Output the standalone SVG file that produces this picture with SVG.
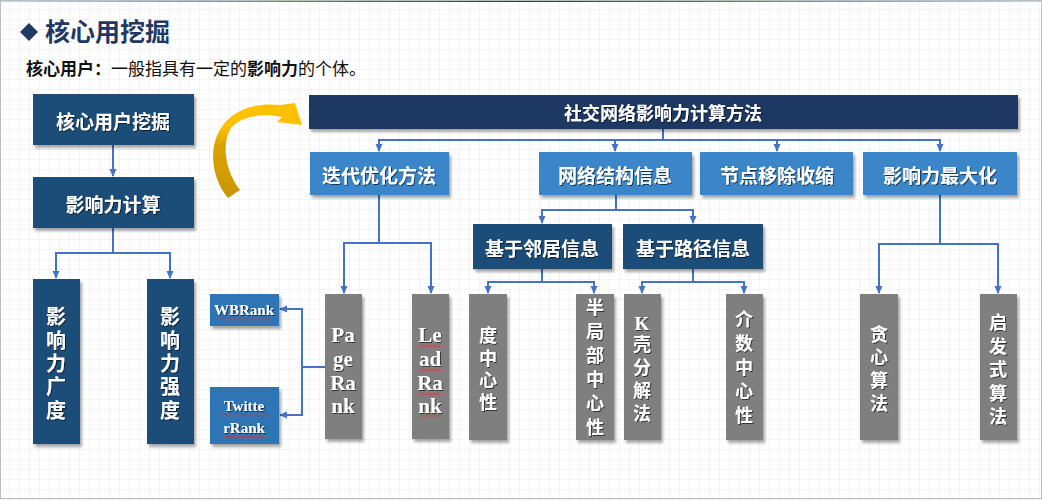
<svg xmlns="http://www.w3.org/2000/svg" width="1042" height="500" viewBox="0 0 1042 500">
<defs>
<pattern id="grid" width="10" height="10" patternUnits="userSpaceOnUse">
<path d="M10,0 V10 M0,10 H10" fill="none" stroke="#e9e9e9" stroke-width="1"/>
</pattern>
<pattern id="wavy" width="4" height="3" patternUnits="userSpaceOnUse">
<path d="M0,2.5 L2,0.5 L4,2.5" fill="none" stroke="#e0302a" stroke-width="1"/>
</pattern>
<linearGradient id="topline" x1="0" y1="0" x2="1" y2="0">
<stop offset="0" stop-color="#c9d3e3"/><stop offset="0.5" stop-color="#1f3864"/><stop offset="1" stop-color="#c9d3e3"/>
</linearGradient>
<linearGradient id="gold" x1="0" y1="0" x2="0" y2="1">
<stop offset="0" stop-color="#ffc000"/><stop offset="0.25" stop-color="#ffc000"/><stop offset="0.45" stop-color="#d9a400"/><stop offset="1" stop-color="#c99500"/>
</linearGradient>
<filter id="sh" x="-20%" y="-20%" width="150%" height="150%">
<feDropShadow dx="2" dy="3" stdDeviation="1.6" flood-color="#000" flood-opacity="0.35"/>
</filter>
<filter id="tsh" x="-10%" y="-10%" width="130%" height="130%">
<feDropShadow dx="1" dy="1" stdDeviation="0.4" flood-color="#000" flood-opacity="0.6"/>
</filter>
<marker id="arr" markerWidth="8" markerHeight="8" refX="7" refY="4" orient="auto" markerUnits="userSpaceOnUse">
<path d="M0,0.5 L8,4 L0,7.5 z" fill="#4472c4"/>
</marker>
<style>
.dk{fill:#1f4e79;filter:url(#sh)}
.bar{fill:#1f3864;filter:url(#sh)}
.lb{fill:#3b86c9;filter:url(#sh)}
.mb{fill:#2e75b6;filter:url(#sh)}
.gr{fill:#7f7f7f;filter:url(#sh)}
.t{font-family:"Noto Sans CJK SC","Noto Sans",sans-serif;font-weight:bold;fill:#ffffff;text-anchor:middle;dominant-baseline:central;filter:url(#tsh)}
.v{font-family:"Noto Sans CJK SC","Noto Sans",sans-serif;font-weight:bold;fill:#ffffff;text-anchor:middle;writing-mode:vertical-rl;text-orientation:upright;filter:url(#tsh)}
.s{font-family:"Liberation Serif",serif;font-weight:bold;fill:#ffffff;text-anchor:middle;dominant-baseline:central;filter:url(#tsh)}
.c{fill:none;stroke:#4472c4;stroke-width:2}
.w{fill:url(#wavy)}
</style>
</defs>
<rect width="1042" height="500" fill="#ffffff"/>
<rect width="1042" height="500" fill="url(#grid)"/>
<rect x="0" y="0" width="1042" height="2" fill="url(#topline)"/>
<rect x="0.5" y="0.5" width="1041" height="498" fill="none" stroke="#bdbdbd" stroke-width="1"/>

<g id="title">
<path d="M29,23 L38,32 L29,41 L20,32 z" fill="#1f3864"/>
<text x="45" y="41" font-family="Noto Sans CJK SC, sans-serif" font-weight="bold" font-size="25" fill="#1f3864">核心用挖掘</text>
</g>
<g id="subtitle">
<text x="26" y="75" font-family="Noto Sans CJK SC, sans-serif" font-size="17" fill="#111"><tspan font-weight="bold">核心用户：</tspan>一般指具有一定的<tspan font-weight="bold">影响力</tspan>的个体。</text>
</g>

<g id="curved-arrow">
<path d="M228,198 C213,180 207,150 221,128 C232,110 255,102 280,105 L295,103 L302,125 L277,122 L282,117 C262,113 241,116 231,128 C222,142 224,170 240,190 Z" fill="url(#gold)"/>
</g>

<g id="connectors">
<path class="c" d="M113,145 V176" marker-end="url(#arr)"/>
<path class="c" d="M113,228 V253 H56 V278" marker-end="url(#arr)"/>
<path class="c" d="M113,253 H170 V278" marker-end="url(#arr)"/>
<path class="c" d="M663,129 V140"/>
<path class="c" d="M663,140 H379 V151" marker-end="url(#arr)"/>
<path class="c" d="M663,140 H615 V151" marker-end="url(#arr)"/>
<path class="c" d="M663,140 H777 V151" marker-end="url(#arr)"/>
<path class="c" d="M663,140 H940 V151" marker-end="url(#arr)"/>
<path class="c" d="M379,195 V243 H344 V293" marker-end="url(#arr)"/>
<path class="c" d="M379,243 H431 V293" marker-end="url(#arr)"/>
<path class="c" d="M325,367 H302 V309 H280" marker-end="url(#arr)"/>
<path class="c" d="M302,367 V415 H280" marker-end="url(#arr)"/>
<path class="c" d="M616,195 V210 H542 V223" marker-end="url(#arr)"/>
<path class="c" d="M616,210 H693 V223" marker-end="url(#arr)"/>
<path class="c" d="M542,269 V282 H488 V293" marker-end="url(#arr)"/>
<path class="c" d="M542,282 H594 V293" marker-end="url(#arr)"/>
<path class="c" d="M693,269 V282 H642 V293" marker-end="url(#arr)"/>
<path class="c" d="M693,282 H744 V293" marker-end="url(#arr)"/>
<path class="c" d="M940,195 V244 H879 V293" marker-end="url(#arr)"/>
<path class="c" d="M940,244 H998 V293" marker-end="url(#arr)"/>
</g>

<g id="n-core">
<rect class="dk" x="33" y="94" width="161" height="51"/>
<text class="t" x="113" y="120" font-size="19">核心用户挖掘</text>
</g>
<g id="n-calc">
<rect class="dk" x="33" y="177" width="161" height="51"/>
<text class="t" x="113" y="203" font-size="19">影响力计算</text>
</g>
<g id="n-breadth">
<rect class="dk" x="33" y="279" width="47" height="165"/>
<text class="v" x="56" y="365" font-size="20" letter-spacing="3.3">影响力广度</text>
</g>
<g id="n-strength">
<rect class="dk" x="147" y="279" width="47" height="165"/>
<text class="v" x="170" y="365" font-size="20" letter-spacing="3.3">影响力强度</text>
</g>

<g id="n-top">
<rect class="bar" x="309" y="95" width="709" height="34"/>
<text class="t" x="663" y="112" font-size="18">社交网络影响力计算方法</text>
</g>
<g id="n-iter">
<rect class="lb" x="310" y="152" width="139" height="43"/>
<text class="t" x="379" y="174" font-size="19">迭代优化方法</text>
</g>
<g id="n-struct">
<rect class="lb" x="539" y="152" width="153" height="43"/>
<text class="t" x="615" y="174" font-size="19">网络结构信息</text>
</g>
<g id="n-remove">
<rect class="lb" x="700" y="152" width="153" height="43"/>
<text class="t" x="777" y="174" font-size="19">节点移除收缩</text>
</g>
<g id="n-max">
<rect class="lb" x="863" y="152" width="154" height="43"/>
<text class="t" x="940" y="174" font-size="19">影响力最大化</text>
</g>

<g id="n-wbrank">
<rect class="mb" x="210" y="294" width="69" height="32"/>
<text class="s" x="244" y="310" font-size="15">WBRank</text>
<rect class="w" x="217" y="318" width="55" height="3"/>
</g>
<g id="n-twitterrank">
<rect class="mb" x="210" y="387" width="69" height="57"/>
<text class="s" font-size="15"><tspan x="244" y="406">Twitte</tspan><tspan x="244" y="428">rRank</tspan></text>
<rect class="w" x="219" y="414" width="51" height="3"/>
<rect class="w" x="223" y="436" width="43" height="3"/>
</g>
<g id="n-pagerank">
<rect class="gr" x="325" y="294" width="37" height="145"/>
<text class="s" font-size="21"><tspan x="343" y="335">Pa</tspan><tspan x="343" y="359">ge</tspan><tspan x="343" y="383">Ra</tspan><tspan x="343" y="406">nk</tspan></text>
</g>
<g id="n-leadrank">
<rect class="gr" x="412" y="294" width="37" height="145"/>
<text class="s" font-size="21"><tspan x="430" y="335">Le</tspan><tspan x="430" y="359">ad</tspan><tspan x="430" y="383">Ra</tspan><tspan x="430" y="406">nk</tspan></text>
<rect class="w" x="419" y="344" width="22" height="3"/>
<rect class="w" x="419" y="368" width="22" height="3"/>
<rect class="w" x="419" y="392" width="22" height="3"/>
<rect class="w" x="419" y="415" width="22" height="3"/>
</g>

<g id="n-neighbor">
<rect class="dk" x="473" y="224" width="139" height="45"/>
<text class="t" x="542" y="247" font-size="19">基于邻居信息</text>
</g>
<g id="n-path">
<rect class="dk" x="623" y="224" width="140" height="45"/>
<text class="t" x="693" y="247" font-size="19">基于路径信息</text>
</g>

<g id="n-degree">
<rect class="gr" x="469" y="294" width="38" height="146"/>
<text class="v" x="488" y="371" font-size="18" letter-spacing="4.3">度中心性</text>
</g>
<g id="n-semilocal">
<rect class="gr" x="576" y="294" width="38" height="146"/>
<text class="v" x="595" y="370" font-size="18" letter-spacing="6">半局部中心性</text>
</g>
<g id="n-kshell">
<rect class="gr" x="624" y="294" width="37" height="146"/>
<text class="s" x="642" y="323" font-size="19">K</text>
<text class="v" x="642" y="381" font-size="18" letter-spacing="5">壳分解法</text>
</g>
<g id="n-betweenness">
<rect class="gr" x="726" y="294" width="37" height="146"/>
<text class="v" x="744" y="370" font-size="18" letter-spacing="6">介数中心性</text>
</g>

<g id="n-greedy">
<rect class="gr" x="860" y="294" width="38" height="146"/>
<text class="v" x="879" y="371" font-size="18" letter-spacing="5">贪心算法</text>
</g>
<g id="n-heuristic">
<rect class="gr" x="980" y="294" width="37" height="146"/>
<text class="v" x="998" y="372" font-size="18" letter-spacing="5.5">启发式算法</text>
</g>
</svg>
